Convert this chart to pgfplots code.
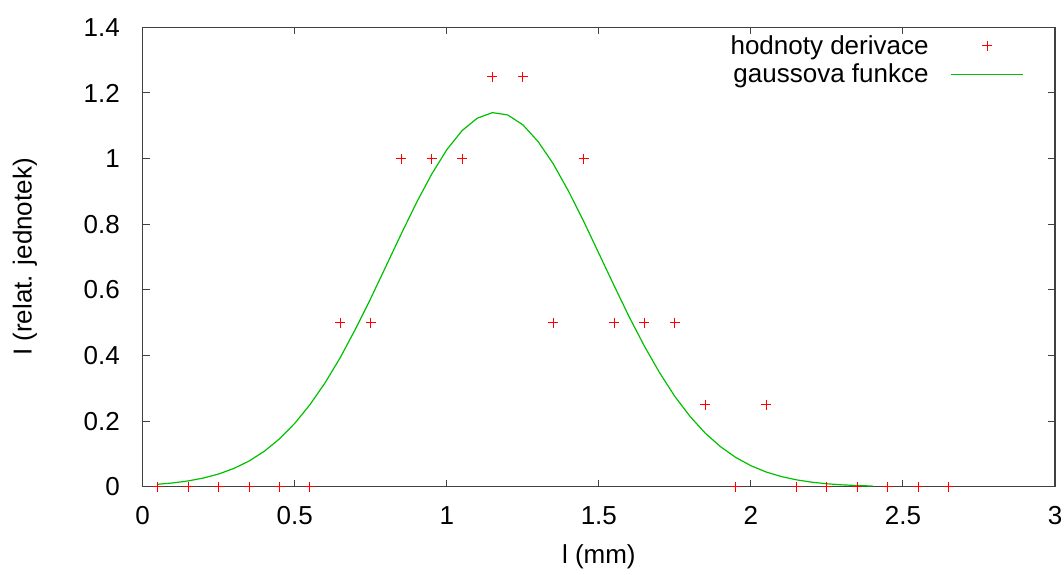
\documentclass[border=0pt]{standalone}
\usepackage{fontspec}
\setmainfont{Liberation Sans}
\usepackage{pgfplots}
\pgfplotsset{compat=1.18}
\definecolor{gpgreen}{RGB}{0,192,0}
\definecolor{gpred}{RGB}{255,0,0}
\definecolor{gpaxis}{RGB}{64,64,64}
\begin{document}
\fontsize{26}{30}\selectfont
\begin{tikzpicture}
\useasboundingbox (-142.7pt,-87.3pt) rectangle (921.3pt,486.7pt);
\begin{axis}[
  at={(0pt,0pt)}, anchor=south west,
  width=912.3pt, height=459.4pt, scale only axis,
  xmin=0, xmax=3, ymin=0, ymax=1.4,
  xtick={0,0.5,1,1.5,2,2.5,3},
  ytick={0,0.2,0.4,0.6,0.8,1,1.2,1.4},
  tick align=inside,
  major tick length=7pt,
  tick style={gpaxis, line width=1pt},
  axis line style={gpaxis, line width=1.5pt},
  /pgf/number format/assume math mode=true,
  every tick label/.append style={font=\fontsize{26}{30}\selectfont},
  yticklabel style={xshift=-14pt},
  xticklabel style={yshift=-11pt},
  xlabel={l (mm)},
  ylabel={I (relat. jednotek)},
  xlabel style={font=\fontsize{26}{30}\selectfont, at={(axis description cs:0.5,0)}, anchor=center, yshift=-70pt},
  ylabel style={font=\fontsize{26}{30}\selectfont, at={(axis description cs:-0.129,0.5)}, anchor=center},
  legend plot pos=right,
  legend cell align=right,
  legend style={draw=none, fill=none, font=\fontsize{26}{30}\selectfont,
    at={(axis cs:3,1.4)}, anchor=north east, xshift=-28pt, yshift=-2pt},
]
\addplot[color=gpred, only marks, mark=+, mark size=5pt, line width=1pt, forget plot]
coordinates {
(0.05,0) (0.15,0) (0.25,0) (0.35,0) (0.45,0) (0.55,0)
(0.65,0.5) (0.75,0.5) (0.85,1) (0.95,1) (1.05,1)
(1.15,1.25) (1.25,1.25) (1.35,0.5) (1.45,1) (1.55,0.5)
(1.65,0.5) (1.75,0.5) (1.85,0.25) (1.95,0) (2.05,0.25)
(2.15,0) (2.25,0) (2.35,0) (2.45,0) (2.55,0) (2.65,0)
};
\addplot[color=gpgreen, line width=1.2pt, no marks, forget plot]
coordinates {
(0.05,0.0075) (0.10,0.0116) (0.15,0.0177) (0.20,0.0265) (0.25,0.0388)
(0.30,0.0557) (0.35,0.0783) (0.40,0.108) (0.45,0.146) (0.50,0.193)
(0.55,0.250) (0.60,0.317) (0.65,0.394) (0.70,0.481) (0.75,0.574)
(0.80,0.672) (0.85,0.770) (0.90,0.865) (0.95,0.952) (1.00,1.027)
(1.05,1.085) (1.10,1.123) (1.15,1.140) (1.20,1.133) (1.25,1.103)
(1.30,1.052) (1.35,0.984) (1.40,0.901) (1.45,0.809) (1.50,0.711)
(1.55,0.613) (1.60,0.517) (1.65,0.428) (1.70,0.347) (1.75,0.275)
(1.80,0.214) (1.85,0.163) (1.90,0.122) (1.95,0.0893) (2.00,0.064)
(2.05,0.0449) (2.10,0.0309) (2.15,0.0209) (2.20,0.0138) (2.25,0.0089)
(2.30,0.0057) (2.35,0.0035) (2.40,0.0021)
};
\addlegendimage{color=gpred, line width=1pt,
  legend image code/.code={%
    \path[draw=none, fill=none] (0pt,0pt) -- (72pt,0pt);
    \fill[fill=gpred, draw=none] (31pt,-0.55pt) rectangle (41pt,0.55pt);
    \fill[fill=gpred, draw=none] (35.45pt,-5pt) rectangle (36.55pt,5pt);}}
\addlegendentry{\rule[-6.5pt]{0pt}{27pt}hodnoty derivace\hbox to 20pt{}}
\addlegendimage{color=gpgreen, line width=1.2pt,
  legend image code/.code={\draw[color=gpgreen, line width=1.2pt] (0pt,0pt) -- (72pt,0pt);}}
\addlegendentry{\rule[-6.5pt]{0pt}{27pt}gaussova funkce\hbox to 20pt{}}
\end{axis}
\end{tikzpicture}
\end{document}
